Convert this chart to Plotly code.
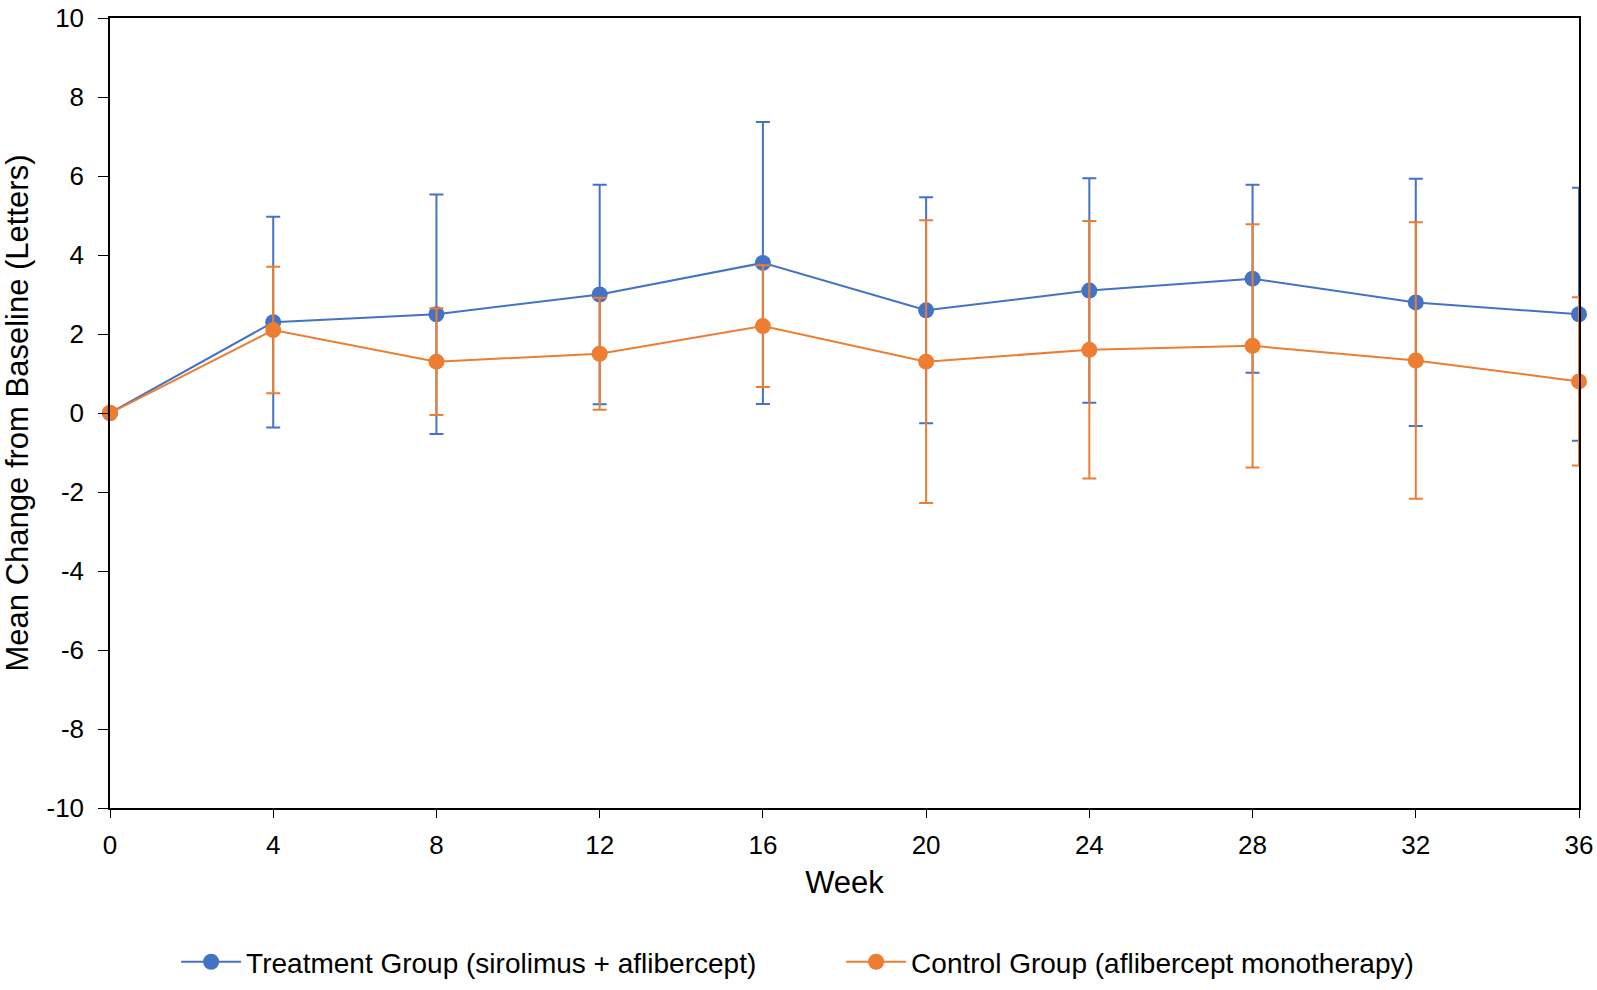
import plotly.graph_objs as go

# --- Data ---
weeks = [0, 4, 8, 12, 16, 20, 24, 28, 32, 36]
week_ticks = [0, 4, 8, 12, 16, 20, 24, 28, 32, 36]
y_ticks = [-10, -8, -6, -4, -2, 0, 2, 4, 6, 8, 10]
y_tick_labels = ["-10", "-8", "-6", "-4", "-2", "0", "2", "4", "6", "8", "10"]

treatment_mean = [0, 2.3, 2.5, 3.0, 3.8, 2.6, 3.1, 3.4, 2.8, 2.5]
treatment_err = [None, 2.67, 3.03, 2.78, 3.57, 2.86, 2.84, 2.38, 3.13, 3.2]

control_mean = [0, 2.1, 1.3, 1.5, 2.2, 1.3, 1.6, 1.7, 1.33, 0.8]
control_err = [None, 1.6, 1.35, 1.42, 1.54, 3.58, 3.26, 3.08, 3.5, 2.13]

treatment_name = "Treatment Group (sirolimus + aflibercept)"
control_name = "Control Group (aflibercept monotherapy)"

FONT = "Liberation Sans, Arial, sans-serif"


# --- Chart ---
def make_trace(y, err, name, color):
    """One line with markers and symmetric error bars."""
    return go.Scatter(
        x=weeks,
        y=y,
        mode="lines+markers",
        name=name,
        line=dict(color=color, width=2),
        marker=dict(color=color, size=16),
        error_y=dict(type="data", array=err, visible=True,
                     color=color, thickness=2, width=7),
        cliponaxis=False,
    )


def create_chart():
    data = [
        make_trace(treatment_mean, treatment_err, treatment_name, "#4472C4"),
        make_trace(control_mean, control_err, control_name, "#ED7D31"),
    ]

    layout = go.Layout(
        width=1597,
        height=990,
        font=dict(family=FONT, size=26, color="black"),
        plot_bgcolor="white",
        paper_bgcolor="white",
        margin=dict(l=110, r=18, t=18, b=182, autoexpand=False),
        xaxis=dict(
            title=dict(text="Week", font=dict(size=31), standoff=12),
            range=[0, 36],
            tickvals=week_ticks,
            showgrid=False,
            zeroline=False,
            showline=True,
            linecolor="black",
            linewidth=1.5,
            mirror=True,
            ticks="outside",
            ticklen=8,
            tickcolor="black",
            ticklabelstandoff=5,
            ticklabeloverflow="allow",
            automargin=False,
        ),
        yaxis=dict(
            title=dict(text="Mean Change from Baseline (Letters)",
                       font=dict(size=31), standoff=20),
            range=[-10, 10],
            tickvals=y_ticks,
            ticktext=y_tick_labels,
            showgrid=False,
            zeroline=False,
            showline=True,
            linecolor="black",
            linewidth=1.5,
            mirror=True,
            ticks="outside",
            ticklen=10,
            tickcolor="black",
            ticklabelstandoff=9,
            ticklabeloverflow="allow",
            automargin=False,
        ),
        legend=dict(
            orientation="h",
            x=0.045,
            xanchor="left",
            y=-0.195,
            yanchor="middle",
            font=dict(size=28),
            itemwidth=60,
            entrywidth=590,
        ),
    )

    return go.Figure(data=data, layout=layout)


# --- Main Execution ---
if __name__ == "__main__":
    fig = create_chart()
    # drop the default 8px body margin so the figure fills the window exactly
    fig.write_html("out.html",
                   config={"displayModeBar": False},
                   post_script="document.body.style.margin = '0';")
